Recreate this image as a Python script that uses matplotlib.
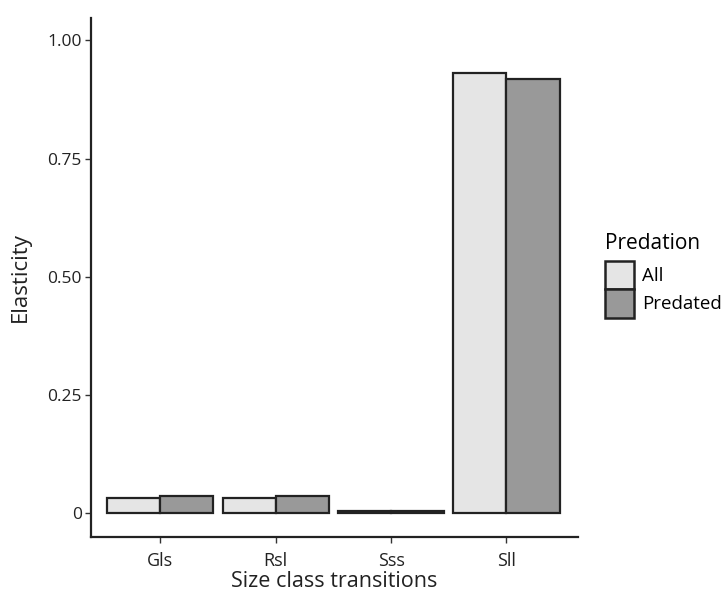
import matplotlib
matplotlib.use("Agg")
import matplotlib.pyplot as plt
import numpy as np
from matplotlib.patches import Patch

categories = ["Gls", "Rsl", "Sss", "Sll"]
all_vals = [0.032, 0.032, 0.006, 0.930]
predated_vals = [0.037, 0.037, 0.006, 0.918]
yticks = [0, 0.25, 0.50, 0.75, 1.00]
yticklabels = ["0", "0.25", "0.50", "0.75", "1.00"]

plt.rcParams['font.family'] = ['Open Sans', 'DejaVu Sans']

fig = plt.figure(figsize=(7.24, 5.94), dpi=100)
ax = fig.add_axes([91/724, 57/594, (578-91)/724, (537-18)/594])

x = np.arange(1, len(categories) + 1)
w = 0.46
ax.bar(x - w/2, all_vals, width=w, color="#e5e5e5", edgecolor="#222222", linewidth=1.6, label="All")
ax.bar(x + w/2, predated_vals, width=w, color="#999999", edgecolor="#222222", linewidth=1.6, label="Predated")

ax.set_xlim(0.4, 4.62)
ax.set_ylim(-0.05, 1.047)
ax.set_xticks(x)
ax.set_xticklabels(categories, fontsize=13, color="#222222")
ax.set_yticks(yticks)
ax.set_yticklabels(yticklabels, fontsize=12.5, color="#222222")
ax.tick_params(axis='both', length=4.5, width=1, color="#333333", direction='out')
ax.tick_params(axis='x', pad=6)
ax.tick_params(axis='y', pad=2)
for s in ["top", "right"]:
    ax.spines[s].set_visible(False)
for s in ["left", "bottom"]:
    ax.spines[s].set_linewidth(1.6)
    ax.spines[s].set_color("#222222")

ax.set_xlabel("Size class transitions", fontsize=15.5, color="#222222", labelpad=1)
ax.set_ylabel("Elasticity", fontsize=16, color="#222222", labelpad=12)

handles = [Patch(facecolor="#e5e5e5", edgecolor="#222222", linewidth=1.8, label="All"),
           Patch(facecolor="#999999", edgecolor="#222222", linewidth=1.8, label="Predated")]
leg = fig.legend(handles=handles, title="Predation", loc="upper left",
                 bbox_to_anchor=(605/724, 1 - 233/594), frameon=False,
                 fontsize=13.5, title_fontsize=15, handlelength=1.55, handleheight=1.95,
                 handletextpad=0.45, labelspacing=0.0, borderaxespad=0, borderpad=0)
leg._legend_box.align = "left"
leg._legend_box.sep = 5

fig.savefig("out.png", dpi=100)
